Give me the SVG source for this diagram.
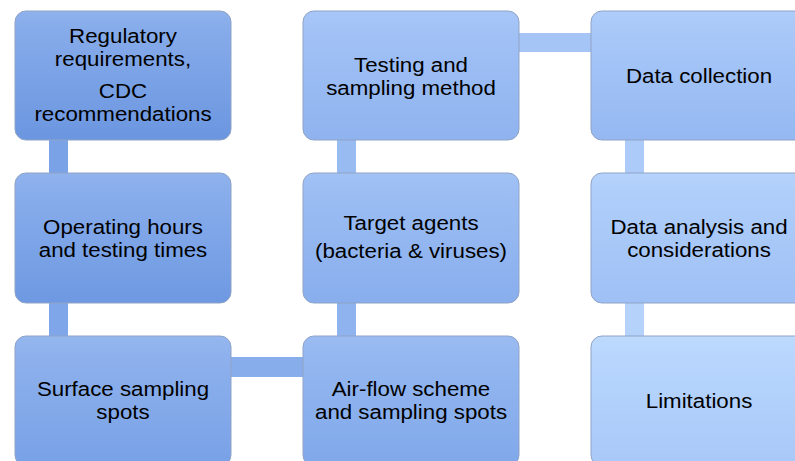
<svg xmlns="http://www.w3.org/2000/svg" width="795" height="461" viewBox="0 0 795 461">
<style>
.box{stroke:#8fa3c6;stroke-width:1}
.lbl{font-family:"Liberation Sans",Arial,sans-serif;font-size:20px;fill:#000;text-anchor:middle}
</style>
<defs>
<linearGradient id="g1" x1="0" y1="0" x2="0" y2="1"><stop offset="0" stop-color="#8fb2ed"/><stop offset="0.15" stop-color="#86abea"/><stop offset="1" stop-color="#6b96e0"/></linearGradient>
<linearGradient id="g2" x1="0" y1="0" x2="0" y2="1"><stop offset="0" stop-color="#90b3ed"/><stop offset="0.15" stop-color="#88adeb"/><stop offset="1" stop-color="#6e99e2"/></linearGradient>
<linearGradient id="g3" x1="0" y1="0" x2="0" y2="1"><stop offset="0" stop-color="#95b7ef"/><stop offset="0.15" stop-color="#8eb1ed"/><stop offset="1" stop-color="#78a1e6"/></linearGradient>
<linearGradient id="g4" x1="0" y1="0" x2="0" y2="1"><stop offset="0" stop-color="#9bbcf2"/><stop offset="0.15" stop-color="#94b7f0"/><stop offset="1" stop-color="#80a8ea"/></linearGradient>
<linearGradient id="g5" x1="0" y1="0" x2="0" y2="1"><stop offset="0" stop-color="#a2c2f5"/><stop offset="0.15" stop-color="#9bbdf3"/><stop offset="1" stop-color="#89aeed"/></linearGradient>
<linearGradient id="g6" x1="0" y1="0" x2="0" y2="1"><stop offset="0" stop-color="#a8c7f8"/><stop offset="0.15" stop-color="#a2c2f6"/><stop offset="1" stop-color="#8fb3ef"/></linearGradient>
<linearGradient id="g7" x1="0" y1="0" x2="0" y2="1"><stop offset="0" stop-color="#aecdfa"/><stop offset="0.15" stop-color="#a8c8f8"/><stop offset="1" stop-color="#95b8f2"/></linearGradient>
<linearGradient id="g8" x1="0" y1="0" x2="0" y2="1"><stop offset="0" stop-color="#b5d3fc"/><stop offset="0.15" stop-color="#afcefa"/><stop offset="1" stop-color="#9fc0f5"/></linearGradient>
<linearGradient id="g9" x1="0" y1="0" x2="0" y2="1"><stop offset="0" stop-color="#bddafd"/><stop offset="0.15" stop-color="#b8d6fd"/><stop offset="1" stop-color="#a8c8f8"/></linearGradient>
</defs>
<rect width="795" height="461" fill="#ffffff"/>
<g id="connectors">
<rect x="49" y="140" width="19" height="33" fill="#7aa3e7"/>
<rect x="49" y="303" width="19" height="33" fill="#7ea6e8"/>
<rect x="231" y="357" width="72" height="20" fill="#88adeb"/>
<rect x="337" y="303" width="19" height="33" fill="#8fb3ef"/>
<rect x="337" y="140" width="19" height="33" fill="#98bbf2"/>
<rect x="519" y="33" width="72" height="19" fill="#a5c5f7"/>
<rect x="625" y="140" width="19" height="33" fill="#adcbf9"/>
<rect x="625" y="303" width="19" height="33" fill="#b5d2fb"/>
</g>
<g id="n1"><rect class="box" x="15" y="11" width="216" height="129" rx="11" fill="url(#g1)"/>
<g transform="translate(123,0) scale(1.115,1)"><text class="lbl"><tspan x="0" y="43">Regulatory</tspan><tspan x="0" y="66">requirements,</tspan><tspan x="0" y="98">CDC</tspan><tspan x="0" y="121">recommendations</tspan></text></g></g>
<g id="n2"><rect class="box" x="15" y="173" width="216" height="130" rx="11" fill="url(#g2)"/>
<g transform="translate(123,0) scale(1.115,1)"><text class="lbl"><tspan x="0" y="234">Operating hours</tspan><tspan x="0" y="257">and testing times</tspan></text></g></g>
<g id="n3"><rect class="box" x="15" y="336" width="216" height="130" rx="11" fill="url(#g3)"/>
<g transform="translate(123,0) scale(1.115,1)"><text class="lbl"><tspan x="0" y="396">Surface sampling</tspan><tspan x="0" y="419">spots</tspan></text></g></g>
<g id="n4"><rect class="box" x="303" y="336" width="216" height="130" rx="11" fill="url(#g4)"/>
<g transform="translate(411,0) scale(1.115,1)"><text class="lbl"><tspan x="0" y="396">Air-flow scheme</tspan><tspan x="0" y="419">and sampling spots</tspan></text></g></g>
<g id="n5"><rect class="box" x="303" y="173" width="216" height="130" rx="11" fill="url(#g5)"/>
<g transform="translate(411,0) scale(1.115,1)"><text class="lbl"><tspan x="0" y="230">Target agents</tspan><tspan x="0" y="258">(bacteria &amp; viruses)</tspan></text></g></g>
<g id="n6"><rect class="box" x="303" y="11" width="216" height="129" rx="11" fill="url(#g6)"/>
<g transform="translate(411,0) scale(1.115,1)"><text class="lbl"><tspan x="0" y="72">Testing and</tspan><tspan x="0" y="95">sampling method</tspan></text></g></g>
<g id="n7"><rect class="box" x="591" y="11" width="216" height="129" rx="11" fill="url(#g7)"/>
<g transform="translate(699,0) scale(1.115,1)"><text class="lbl"><tspan x="0" y="83">Data collection</tspan></text></g></g>
<g id="n8"><rect class="box" x="591" y="173" width="216" height="130" rx="11" fill="url(#g8)"/>
<g transform="translate(699,0) scale(1.115,1)"><text class="lbl"><tspan x="0" y="234">Data analysis and</tspan><tspan x="0" y="257">considerations</tspan></text></g></g>
<g id="n9"><rect class="box" x="591" y="336" width="216" height="130" rx="11" fill="url(#g9)"/>
<g transform="translate(699,0) scale(1.115,1)"><text class="lbl"><tspan x="0" y="408">Limitations</tspan></text></g></g>
</svg>
